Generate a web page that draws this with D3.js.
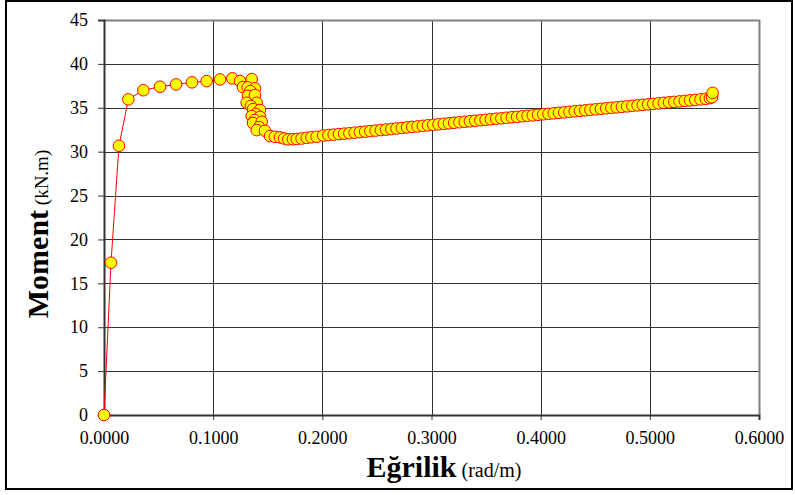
<!DOCTYPE html>
<html><head><meta charset="utf-8">
<script src="https://cdn.jsdelivr.net/npm/d3@7"></script>
<style>body{margin:0;background:#fff}svg{display:block}</style></head>
<body>
<script>
// Curvature (rad/m) and Moment (kN.m)
const curvature = [
  0.0000, 0.0064, 0.0137, 0.0223, 0.0360, 0.0513, 0.0660, 0.0806, 0.0940, 0.1063, 0.1175,
  0.1246, 0.1273, 0.1353, 0.1316, 0.1383, 0.1340, 0.1319, 0.1383, 0.1307, 0.1399, 0.1345,
  0.1365, 0.1429, 0.1390, 0.1353, 0.1429, 0.1380, 0.1365, 0.1445, 0.1420, 0.1399, 0.1475,
  0.1521, 0.1565, 0.1612, 0.1650, 0.1688, 0.1730, 0.1765, 0.1810, 0.1857, 0.1900, 0.1948,
  0.2008, 0.2056, 0.2104, 0.2152, 0.2200, 0.2248, 0.2296, 0.2344, 0.2392, 0.2440,
  0.2488, 0.2536, 0.2584, 0.2632, 0.2680, 0.2728, 0.2776, 0.2824, 0.2872, 0.2920,
  0.2968, 0.3016, 0.3064, 0.3112, 0.3160, 0.3208, 0.3256, 0.3304, 0.3352, 0.3400,
  0.3448, 0.3496, 0.3544, 0.3592, 0.3640, 0.3688, 0.3736, 0.3784, 0.3832, 0.3880,
  0.3928, 0.3976, 0.4024, 0.4072, 0.4120, 0.4168, 0.4216, 0.4264, 0.4312, 0.4360,
  0.4408, 0.4456, 0.4504, 0.4552, 0.4600, 0.4648, 0.4696, 0.4744, 0.4792, 0.4840,
  0.4888, 0.4936, 0.4984, 0.5032, 0.5080, 0.5128, 0.5176, 0.5224, 0.5272, 0.5320,
  0.5368, 0.5416, 0.5464, 0.5512, 0.5550, 0.5570, 0.5575
];
const moment = [
  0.00, 17.35, 30.67, 35.96, 37.00, 37.40, 37.66, 37.90, 38.04, 38.23, 38.35,
  38.04, 37.36, 38.27, 37.32, 37.21, 36.90, 36.37, 36.45, 35.57, 35.57, 35.20,
  34.85, 34.74, 34.30, 34.05, 33.97, 33.60, 33.26, 33.41, 32.80, 32.46, 32.38,
  31.78, 31.70, 31.63, 31.50, 31.40, 31.42, 31.44, 31.50, 31.58, 31.64, 31.70,
  31.84, 31.89, 31.94, 32.00, 32.05, 32.10, 32.16, 32.22, 32.28, 32.34,
  32.40, 32.46, 32.52, 32.58, 32.64, 32.70, 32.76, 32.82, 32.88, 32.94,
  33.00, 33.06, 33.12, 33.17, 33.23, 33.29, 33.35, 33.40, 33.46, 33.52,
  33.58, 33.63, 33.69, 33.75, 33.80, 33.86, 33.92, 33.97, 34.03, 34.09,
  34.14, 34.20, 34.26, 34.31, 34.37, 34.43, 34.48, 34.54, 34.60, 34.65,
  34.71, 34.77, 34.82, 34.88, 34.94, 34.99, 35.05, 35.11, 35.16, 35.22,
  35.28, 35.33, 35.39, 35.45, 35.50, 35.56, 35.62, 35.67, 35.73, 35.79,
  35.84, 35.90, 35.96, 36.02, 36.10, 36.20, 36.70
];
const xTicks = [0, 0.1, 0.2, 0.3, 0.4, 0.5, 0.6];
const yTicks = [0, 5, 10, 15, 20, 25, 30, 35, 40, 45];
const xTitle = "Eğrilik", xUnit = " (rad/m)";
const yTitle = "Moment", yUnit = " (kN.m)";

const W = 795, H = 495;
const svg = d3.select("body").append("svg").attr("width", W).attr("height", H);
const font = "'Liberation Serif','Times New Roman',serif";

svg.append("rect").attr("x", 6).attr("y", 1).attr("width", 786).attr("height", 488)
  .attr("fill", "#fff").attr("stroke", "#000").attr("stroke-width", 2);

const x = d3.scaleLinear().domain([0, 0.6]).range([104, 759]);
const y = d3.scaleLinear().domain([0, 45]).range([415, 20]);

// grid
const g = svg.append("g");
g.selectAll("line.v").data(xTicks.slice(1, -1)).join("line")
  .attr("x1", d => Math.round(x(d)) + 0.5).attr("x2", d => Math.round(x(d)) + 0.5)
  .attr("y1", y(45)).attr("y2", y(0)).attr("stroke", "#333").attr("stroke-width", 1);
g.selectAll("line.h").data(yTicks.slice(1, -1)).join("line")
  .attr("y1", d => Math.round(y(d)) + 0.5).attr("y2", d => Math.round(y(d)) + 0.5)
  .attr("x1", x(0)).attr("x2", x(0.6)).attr("stroke", "#333").attr("stroke-width", 1);
// plot border top/right
svg.append("path").attr("d", `M${x(0)},${y(45)+0.5}H${x(0.6)+0.5}V${y(0)}`)
  .attr("fill", "none").attr("stroke", "#808080").attr("stroke-width", 2);

// axes
const xAxis = svg.append("g").attr("transform", `translate(0,${y(0)})`)
  .call(d3.axisBottom(x).tickValues(xTicks).tickFormat(d3.format(".4f")).tickSize(5).tickPadding(11));
const yAxis = svg.append("g").attr("transform", `translate(${x(0)},0)`)
  .call(d3.axisLeft(y).tickValues(yTicks).tickSize(6).tickPadding(10));
[xAxis, yAxis].forEach(a => {
  a.select(".domain").attr("stroke", "#333").attr("stroke-width", 2);
  a.selectAll(".tick line").attr("stroke", "#333");
  a.selectAll("text").attr("font-family", font).attr("font-size", 18).attr("fill", "#000");
});

// line + markers
const pts = curvature.map((c, i) => [c, moment[i]]);
svg.append("path").datum(pts)
  .attr("d", d3.line().x(d => x(d[0])).y(d => y(d[1])))
  .attr("fill", "none").attr("stroke", "#ff0000").attr("stroke-width", 1);
svg.append("g").selectAll("circle").data(pts).join("circle")
  .attr("cx", d => x(d[0])).attr("cy", d => y(d[1])).attr("r", 5.8)
  .attr("fill", "#ffff00").attr("stroke", "#ff0000").attr("stroke-width", 1);

// titles
const xt = svg.append("text").attr("x", 444).attr("y", 477).attr("text-anchor", "middle")
  .attr("font-family", font).attr("fill", "#000");
xt.append("tspan").attr("font-weight", "bold").attr("font-size", 30).text(xTitle);
xt.append("tspan").attr("font-size", 20).text(xUnit);

const yt = svg.append("text").attr("transform", "translate(48,234) rotate(-90)")
  .attr("text-anchor", "middle").attr("font-family", font).attr("fill", "#000");
yt.append("tspan").attr("font-weight", "bold").attr("font-size", 30).text(yTitle);
yt.append("tspan").attr("font-size", 19).text(yUnit);
</script>
</body></html>
